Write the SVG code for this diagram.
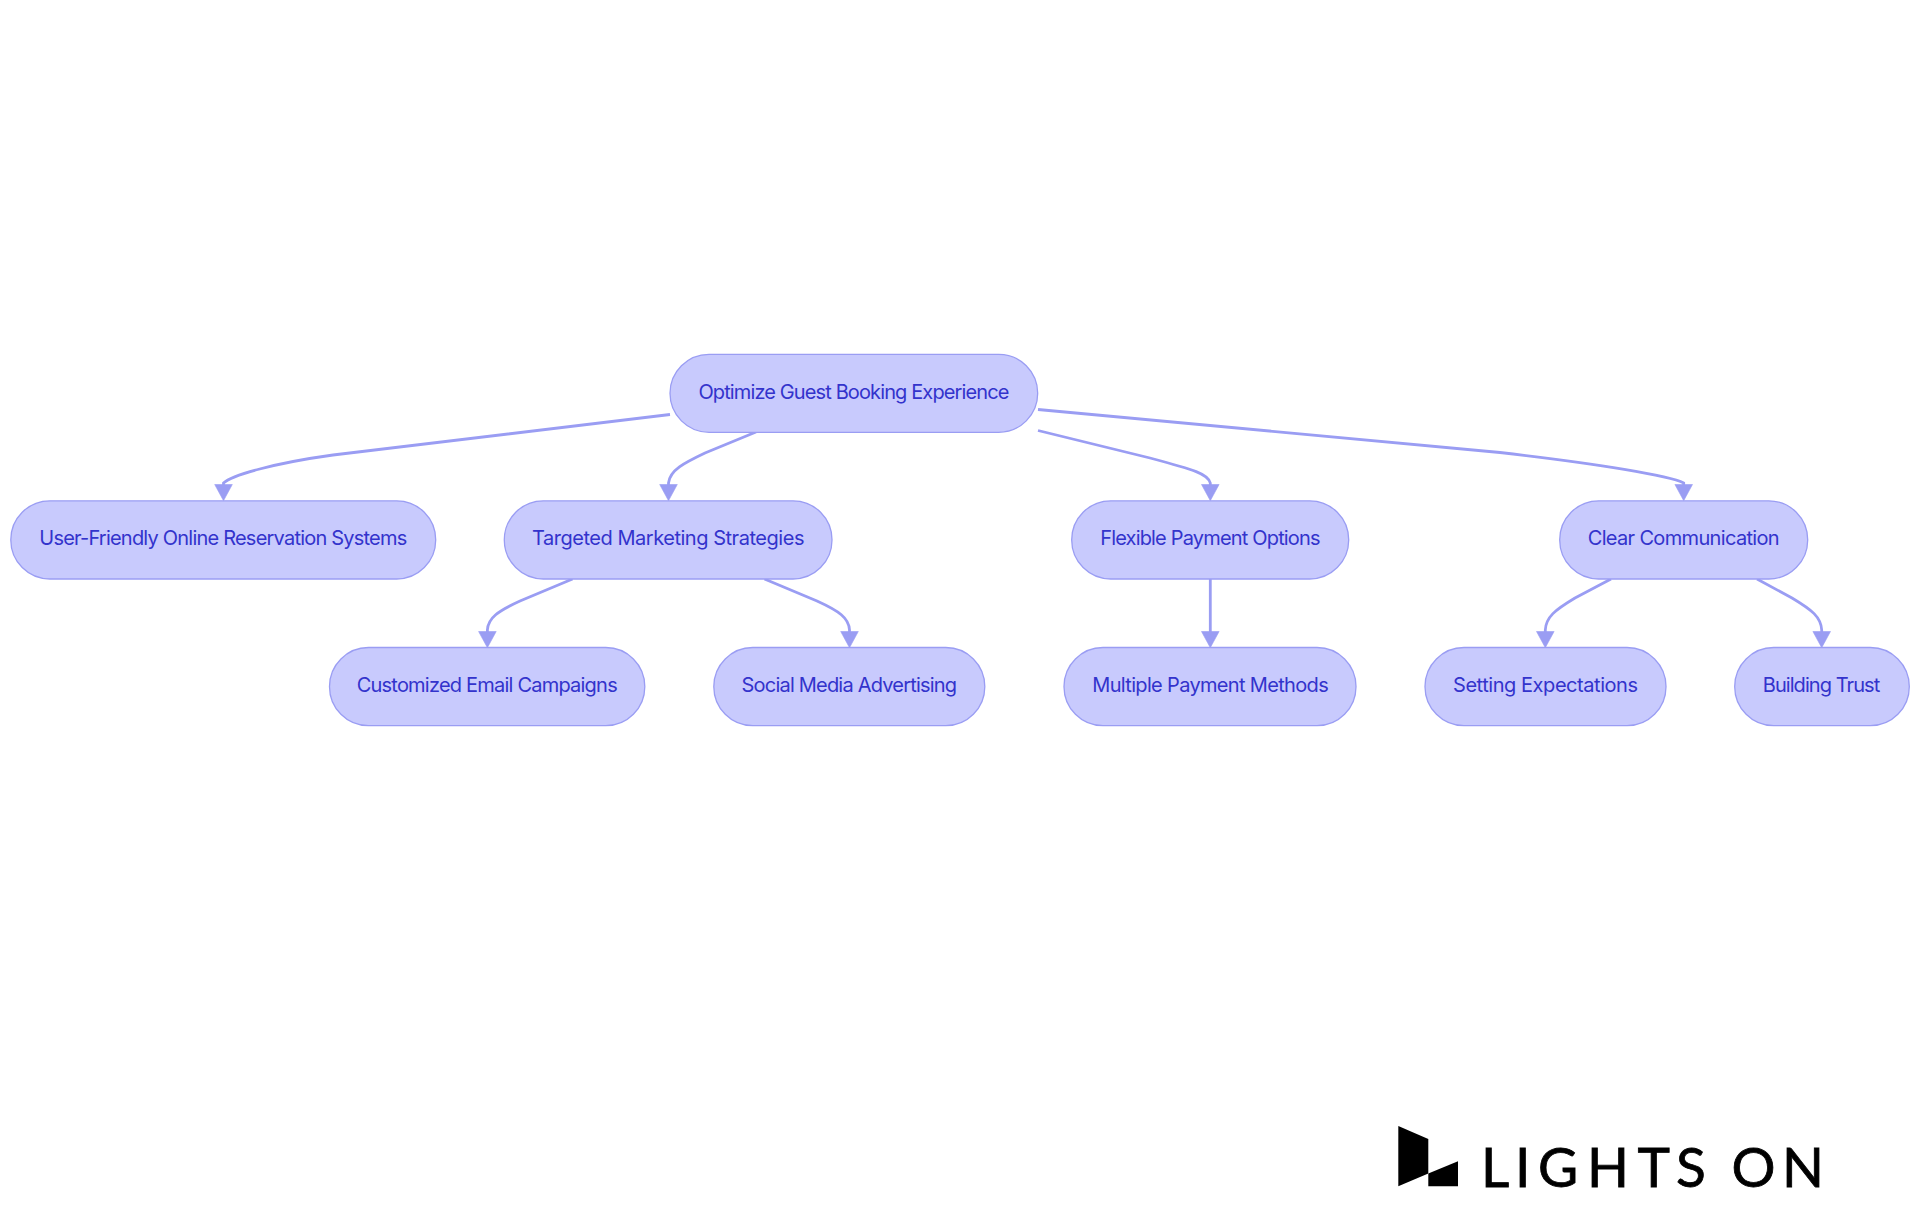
<svg xmlns="http://www.w3.org/2000/svg" width="1920" height="1215" viewBox="0 0 1920 1215">
<style>
.n rect{fill:#C8CAFD;stroke:#9A9DF3;stroke-width:1.3}
.n text{font-family:"Inter","Noto Sans",sans-serif;font-size:20px;fill:#3333CC;text-anchor:middle}
.e{fill:none;stroke:#9A9DF3;stroke-width:2.8}
</style>
<defs><marker id="a" markerUnits="userSpaceOnUse" markerWidth="20" markerHeight="20" refX="1.5" refY="10" orient="auto"><path d="M1,1.2L17.2,10L1,18.8Z" fill="#9A9DF3" stroke="#9A9DF3" stroke-width=".6"/></marker></defs>
<rect width="1920" height="1215" fill="#fff"/>
<g id="connectors">
<path class="e" marker-end="url(#a)" d="M670,414.5L333,455C275,463 232,475 223.5,483L223.5,485"/>
<path class="e" marker-end="url(#a)" d="M756,432L705,453C684,463 670,470 668.5,483L668.5,485"/>
<path class="e" marker-end="url(#a)" d="M1038,430.5L1150,458C1195,470 1208,474 1210.3,483L1210.3,485"/>
<path class="e" marker-end="url(#a)" d="M1038,409.5L1500,452.5C1600,464 1670,476 1683.7,483L1683.7,485"/>
<path class="e" marker-end="url(#a)" d="M572.5,579L520,601C498,611 488,618 487.4,630L487.4,632"/>
<path class="e" marker-end="url(#a)" d="M764.5,579L817,601C839,611 849,618 849.5,630L849.5,632"/>
<path class="e" marker-end="url(#a)" d="M1210.3,579L1210.3,632"/>
<path class="e" marker-end="url(#a)" d="M1611,579L1575,598C1555,610 1546,617 1545.3,630L1545.3,632"/>
<path class="e" marker-end="url(#a)" d="M1757,579L1792,598C1812,610 1821,617 1821.7,630L1821.7,632"/>
</g>
<g id="n0" class="n"><rect x="670" y="354.3" width="367.7" height="78" rx="39"/><text x="853.9" y="399.3" textLength="311">Optimize Guest Booking Experience</text></g>
<g id="n1" class="n"><rect x="10.8" y="500.8" width="424.9" height="78.2" rx="39"/><text x="223.3" y="545" textLength="368">User-Friendly Online Reservation Systems</text></g>
<g id="n2" class="n"><rect x="504.3" y="500.8" width="327.7" height="78.2" rx="39"/><text x="668.2" y="545" textLength="272.5">Targeted Marketing Strategies</text></g>
<g id="n3" class="n"><rect x="1071.7" y="500.8" width="277" height="78.2" rx="39"/><text x="1210.4" y="545" textLength="220.4">Flexible Payment Options</text></g>
<g id="n4" class="n"><rect x="1559.7" y="500.8" width="248" height="78.2" rx="39"/><text x="1683.7" y="545" textLength="192">Clear Communication</text></g>
<g id="n5" class="n"><rect x="329.5" y="647.5" width="315.3" height="78.2" rx="39"/><text x="487.2" y="692" textLength="261">Customized Email Campaigns</text></g>
<g id="n6" class="n"><rect x="713.8" y="647.5" width="271" height="78.2" rx="39"/><text x="849.3" y="692" textLength="215.5">Social Media Advertising</text></g>
<g id="n7" class="n"><rect x="1064" y="647.5" width="292" height="78.2" rx="39"/><text x="1210.5" y="692" textLength="236.4">Multiple Payment Methods</text></g>
<g id="n8" class="n"><rect x="1425" y="647.5" width="241" height="78.2" rx="39"/><text x="1545.5" y="692" textLength="185">Setting Expectations</text></g>
<g id="n9" class="n"><rect x="1734.7" y="647.5" width="174.6" height="78.2" rx="39"/><text x="1821.5" y="692" textLength="117.5">Building Trust</text></g>
<g id="logo">
<polygon points="1398.3,1126 1428.3,1139 1428.3,1173.5 1398.3,1186.3" fill="#000"/>
<polygon points="1428.3,1173.5 1458,1161.3 1458,1186.3 1428.3,1186.3" fill="#000"/>
<text y="1186.7" x="1481 1515 1538 1587 1637.5 1676 1710 1731.5 1782" font-family="Lato,sans-serif" font-size="55" stroke="#000" stroke-width=".8" fill="#000">LIGHTS ON</text>
</g>
</svg>
